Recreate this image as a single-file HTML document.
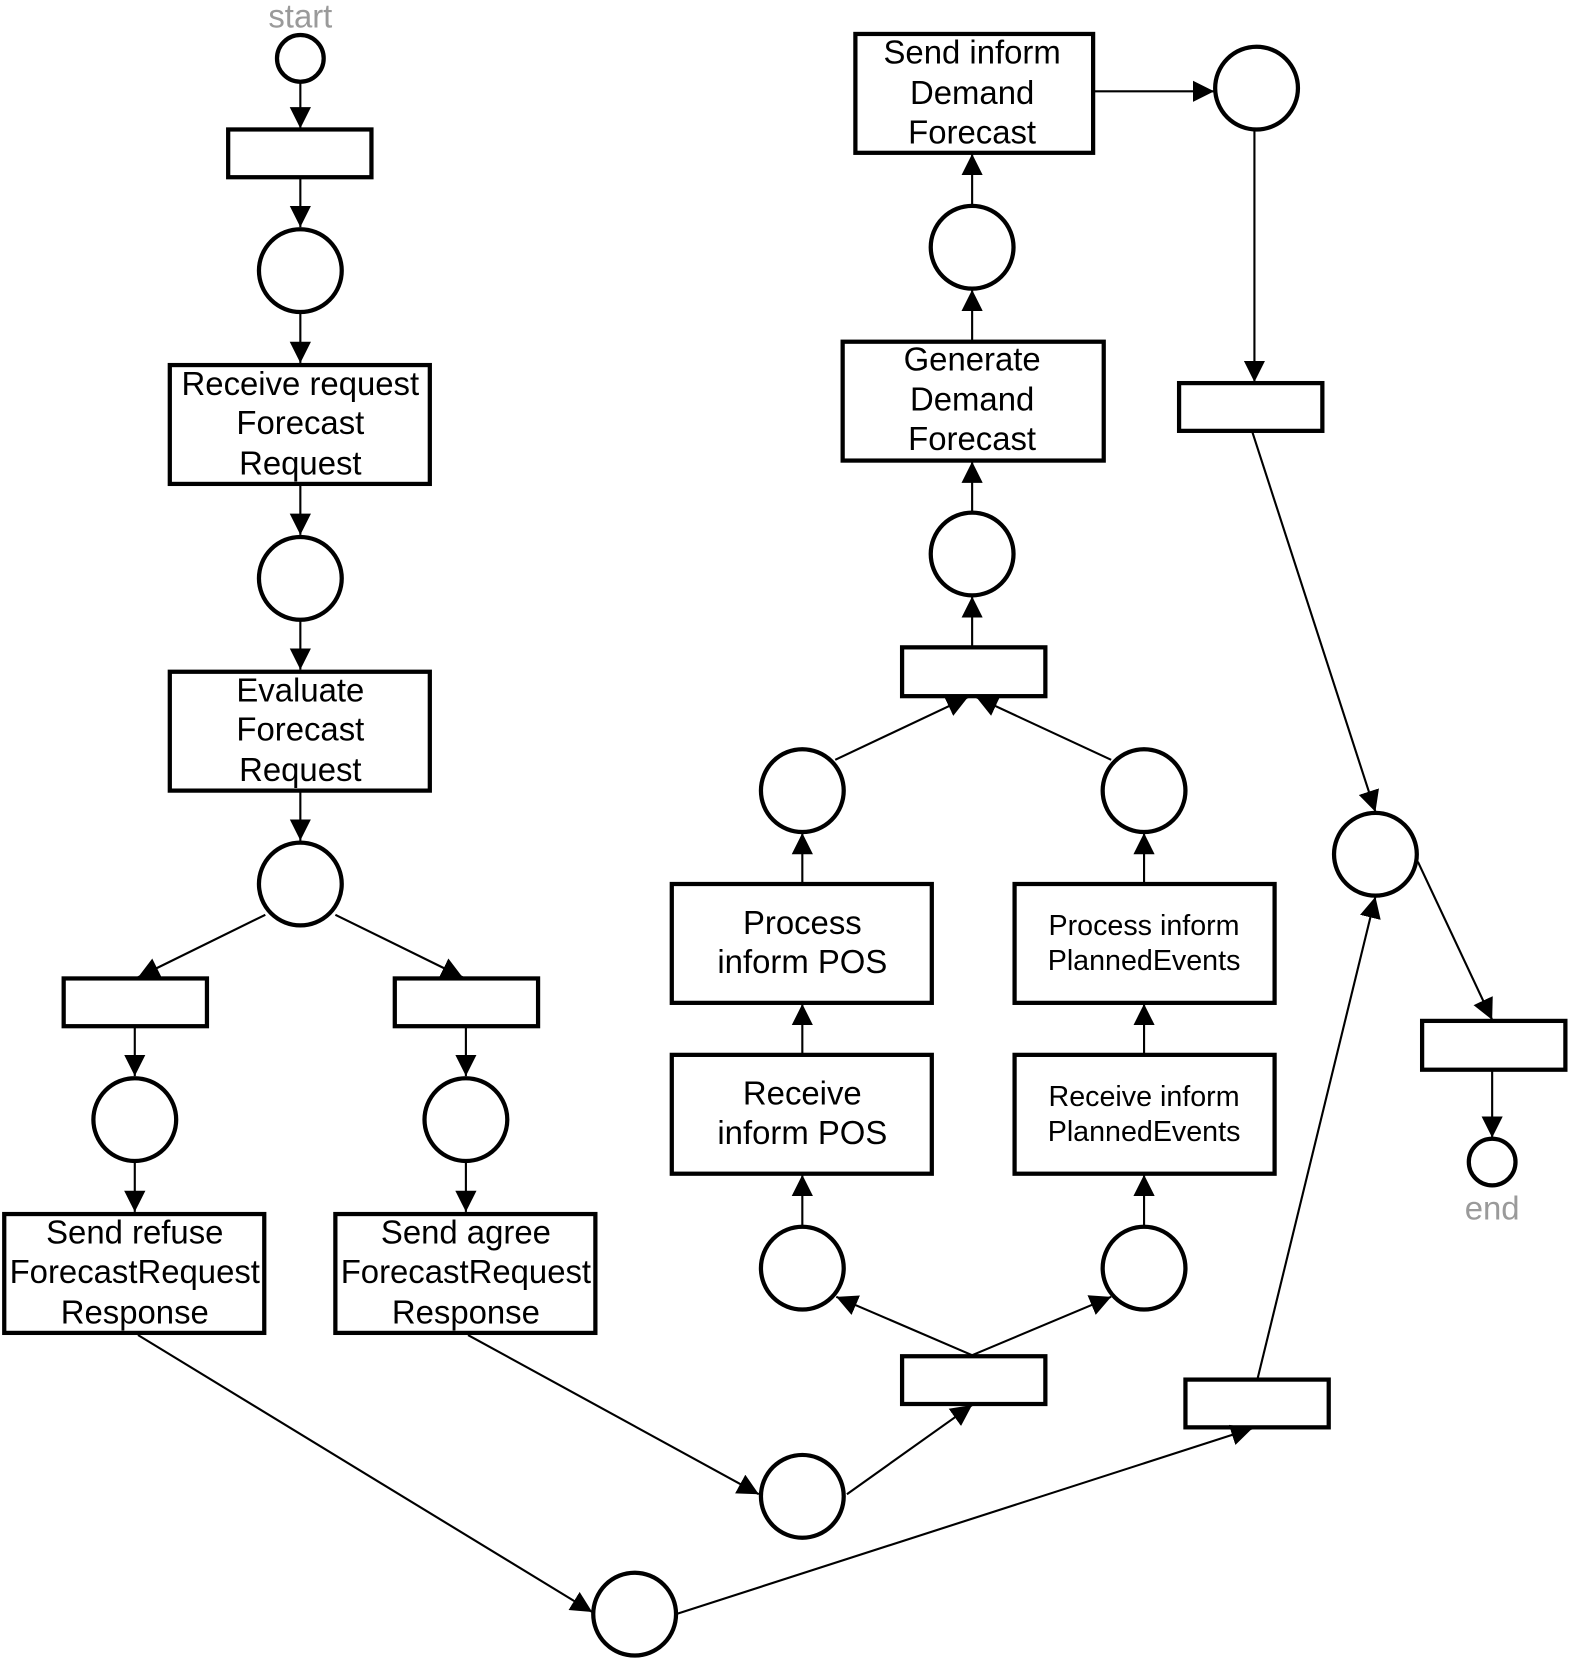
<!DOCTYPE html>
<html><head><meta charset="utf-8"><style>
html,body{margin:0;padding:0;background:#fff;}
svg{display:block;}
text{font-family:"Liberation Sans",Arial,sans-serif;text-anchor:middle;fill:#000;}
</style></head><body>
<svg width="1576" height="1664" viewBox="0 0 1485 1568" preserveAspectRatio="none" xmlns="http://www.w3.org/2000/svg">
<defs>
<marker id="a" viewBox="0 0 20 20" refX="20" refY="10" markerWidth="20" markerHeight="20" markerUnits="userSpaceOnUse" orient="auto">
<path d="M0,0 L20,10 L0,20 z" fill="#000"/>
</marker>
</defs>
<g fill="#fff" stroke="#000" stroke-width="4">
<circle cx="283" cy="55" r="22"/>
<rect x="215" y="122" width="135" height="45"/>
<circle cx="283" cy="255" r="39"/>
<rect x="160" y="344" width="245" height="112"/>
<circle cx="283" cy="545" r="39"/>
<rect x="160" y="633" width="245" height="112"/>
<circle cx="283" cy="833" r="39"/>
<rect x="60" y="922" width="135" height="45"/>
<rect x="372" y="922" width="135" height="45"/>
<circle cx="127" cy="1055" r="39"/>
<circle cx="439" cy="1055" r="39"/>
<rect x="4" y="1144" width="245" height="112"/>
<rect x="316" y="1144" width="245" height="112"/>
<circle cx="756" cy="1410" r="39"/>
<circle cx="598" cy="1521" r="39"/>
<rect x="850" y="1278" width="135" height="45"/>
<circle cx="756" cy="1195" r="39"/>
<circle cx="1078" cy="1195" r="39"/>
<rect x="633" y="994" width="245" height="112"/>
<rect x="956" y="994" width="245" height="112"/>
<rect x="633" y="833" width="245" height="112"/>
<rect x="956" y="833" width="245" height="112"/>
<circle cx="756" cy="745" r="39"/>
<circle cx="1078" cy="745" r="39"/>
<rect x="850" y="610" width="135" height="46"/>
<circle cx="916" cy="522" r="39"/>
<rect x="794" y="322" width="246" height="112"/>
<circle cx="916" cy="233" r="39"/>
<rect x="806" y="32" width="224" height="112"/>
<circle cx="1184" cy="83" r="39"/>
<rect x="1111" y="361" width="135" height="45"/>
<circle cx="1296" cy="805" r="39"/>
<rect x="1117" y="1300" width="135" height="45"/>
<rect x="1340" y="962" width="135" height="46"/>
<circle cx="1406" cy="1095" r="22"/>
</g>
<g stroke="#000" stroke-width="2" fill="none" marker-end="url(#a)">
<line x1="283" y1="77" x2="283" y2="121"/>
<line x1="283" y1="168" x2="283" y2="214"/>
<line x1="283" y1="295" x2="283" y2="342"/>
<line x1="283" y1="457" x2="283" y2="504"/>
<line x1="283" y1="585" x2="283" y2="631"/>
<line x1="283" y1="746" x2="283" y2="792"/>
<line x1="250" y1="862" x2="130" y2="921"/>
<line x1="316" y1="862" x2="436" y2="921"/>
<line x1="127" y1="968" x2="127" y2="1014"/>
<line x1="439" y1="968" x2="439" y2="1014"/>
<line x1="127" y1="1095" x2="127" y2="1142"/>
<line x1="439" y1="1095" x2="439" y2="1142"/>
<line x1="130" y1="1258" x2="558" y2="1519"/>
<line x1="441" y1="1258" x2="715" y2="1408"/>
<line x1="798" y1="1408" x2="916" y2="1324"/>
<line x1="916" y1="1277" x2="788" y2="1222"/>
<line x1="916" y1="1277" x2="1047" y2="1222"/>
<line x1="756" y1="1155" x2="756" y2="1107"/>
<line x1="1078" y1="1155" x2="1078" y2="1107"/>
<line x1="756" y1="993" x2="756" y2="946"/>
<line x1="1078" y1="993" x2="1078" y2="946"/>
<line x1="756" y1="832" x2="756" y2="785"/>
<line x1="1078" y1="832" x2="1078" y2="785"/>
<line x1="787" y1="716" x2="912" y2="657"/>
<line x1="1047" y1="716" x2="920" y2="657"/>
<line x1="916" y1="609" x2="916" y2="562"/>
<line x1="916" y1="482" x2="916" y2="435"/>
<line x1="916" y1="321" x2="916" y2="273"/>
<line x1="916" y1="193" x2="916" y2="145"/>
<line x1="1031" y1="86" x2="1144" y2="86"/>
<line x1="1182" y1="122" x2="1182" y2="360"/>
<line x1="1180" y1="407" x2="1296" y2="765"/>
<line x1="637" y1="1521" x2="1180" y2="1346"/>
<line x1="1185" y1="1299" x2="1296" y2="845"/>
<line x1="1336" y1="812" x2="1406" y2="961"/>
<line x1="1406" y1="1009" x2="1406" y2="1072"/>
</g>
<g font-size="31">
<text x="283" y="26" style="fill:#9a9a9a">start</text>
<text x="283" y="372">Receive request</text>
<text x="283" y="409">Forecast</text>
<text x="283" y="447">Request</text>
<text x="283" y="661">Evaluate</text>
<text x="283" y="698">Forecast</text>
<text x="283" y="736">Request</text>
<text x="127" y="1172">Send refuse</text>
<text x="127" y="1209">ForecastRequest</text>
<text x="127" y="1247">Response</text>
<text x="439" y="1172">Send agree</text>
<text x="439" y="1209">ForecastRequest</text>
<text x="439" y="1247">Response</text>
<text x="756" y="1041">Receive</text>
<text x="756" y="1078">inform POS</text>
<text x="756" y="880">Process</text>
<text x="756" y="917">inform POS</text>
<text x="916" y="349">Generate</text>
<text x="916" y="387">Demand</text>
<text x="916" y="424">Forecast</text>
<text x="916" y="60">Send inform</text>
<text x="916" y="98">Demand</text>
<text x="916" y="135">Forecast</text>
<text x="1406" y="1149" style="fill:#9a9a9a">end</text>
</g>
<g font-size="27">
<text x="1078" y="881">Process inform</text>
<text x="1078" y="914">PlannedEvents</text>
<text x="1078" y="1042">Receive inform</text>
<text x="1078" y="1075">PlannedEvents</text>
</g>
</svg>
</body></html>
